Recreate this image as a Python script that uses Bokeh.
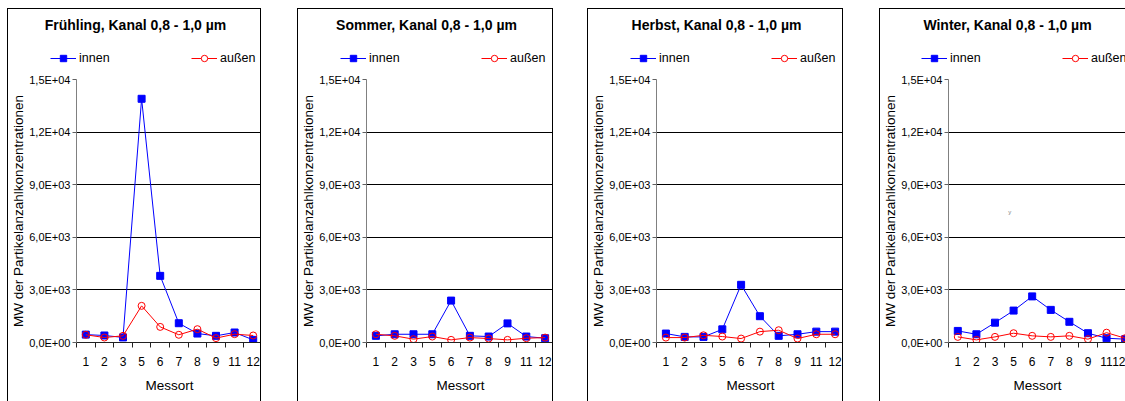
from bokeh.plotting import figure
from bokeh.models import FixedTicker, Legend, LegendItem, Spacer, Label
from bokeh.layouts import row, column
from bokeh.embed import file_html
from bokeh.resources import INLINE

# ---------------- data ----------------
messort = ["1", "2", "3", "5", "6", "7", "8", "9", "11", "12"]
seasons = ["Frühling", "Sommer", "Herbst", "Winter"]
title_suffix = ", Kanal 0,8 - 1,0 µm"
series_names = ["innen", "außen"]

innen_fruehling = [450, 400, 290, 13900, 3800, 1100, 510, 380, 570, 150]
aussen_fruehling = [440, 285, 380, 2090, 890, 440, 760, 250, 475, 400]
innen_sommer = [380, 470, 470, 470, 2390, 380, 340, 1090, 340, 245]
aussen_sommer = [470, 380, 190, 340, 150, 280, 225, 150, 245, 280]
innen_herbst = [510, 320, 320, 750, 3290, 1500, 380, 470, 620, 620]
aussen_herbst = [280, 280, 410, 340, 225, 620, 700, 225, 470, 470]
innen_winter = [660, 470, 1130, 1820, 2630, 1860, 1180, 530, 245, 190]
aussen_winter = [320, 150, 320, 530, 380, 320, 380, 190, 560, 245]

y_ticks = [0, 3000, 6000, 9000, 12000, 15000]
y_tick_labels = ["0,0E+00", "3,0E+03", "6,0E+03", "9,0E+03", "1,2E+04", "1,5E+04"]
y_axis_label = "MW der Partikelanzahlkonzentrationen"
x_axis_label = "Messort"

# ---------------- style / layout ----------------
FONT = "Liberation Sans"
HDR_H = 63          # header (title + legend)
MAIN_H = 330        # chart part
MB_TOP = 8
MB_BOTTOM = 59
CAT_W = 18.7
BLUE = "#0000FF"
RED = "#FF0000"

panels = [
    dict(season=seasons[0], innen=innen_fruehling, aussen=aussen_fruehling,
         width=254, mbl=68, title_x=127, right_border=True),
    dict(season=seasons[1], innen=innen_sommer, aussen=aussen_sommer,
         width=256, mbl=68, title_x=128, right_border=True),
    dict(season=seasons[2], innen=innen_herbst, aussen=aussen_herbst,
         width=256, mbl=68, title_x=128, right_border=True),
    dict(season=seasons[3], innen=innen_winter, aussen=aussen_winter,
         width=246, mbl=67, title_x=127, right_border=False),
]


def border_styles(top, right):
    s = {"border-left": "1px solid #000"}
    if top:
        s["border-top"] = "1px solid #000"
    if right:
        s["border-right"] = "1px solid #000"
    return s


def make_header(season, innen, aussen, width, mbl, title_x, right_border):
    """Title + legend strip; its ranges are in pixels of the strip (y negative)."""
    n = len(messort)
    xs = list(range(1, n + 1))
    h = figure(width=width, height=HDR_H, x_range=(0, width), y_range=(-HDR_H, 0),
               output_backend="svg", toolbar_location=None, title=None,
               x_axis_type=None, y_axis_type=None, frame_align=False,
               min_border=0, min_border_left=0, min_border_right=0,
               min_border_top=0, min_border_bottom=0,
               background_fill_color="white", border_fill_color="white",
               styles=border_styles(True, right_border))
    h.outline_line_color = None
    h.grid.visible = False
    h.add_layout(Label(x=title_x, y=-15, text=season + title_suffix,
                       text_font=FONT, text_font_size="14px", text_font_style="bold",
                       text_color="black", text_align="center", text_baseline="middle"))
    # legend entries for the two series (their data lies outside this strip's ranges)
    l1 = h.line(xs, innen, line_color=BLUE, line_width=1)
    s1 = h.scatter(xs, innen, marker="square", size=7, fill_color=BLUE, line_color=BLUE)
    l2 = h.line(xs, aussen, line_color=RED, line_width=1)
    s2 = h.scatter(xs, aussen, marker="circle", size=7, fill_color="white", line_color=RED)
    legend = Legend(
        items=[LegendItem(label=series_names[0], renderers=[l1, s1]),
               LegendItem(label=series_names[1], renderers=[l2, s2])],
        orientation="horizontal", location=(mbl - 26, 6),
        padding=0, margin=0, spacing=0,
        glyph_width=26, glyph_height=16, label_standoff=3,
        label_height=16, label_width=112,
        label_text_font=FONT, label_text_font_size="12.5px", label_text_color="black",
        background_fill_alpha=0, border_line_color=None,
    )
    h.add_layout(legend)
    return h


def make_panel(season, innen, aussen, width, mbl, title_x, right_border):
    n = len(messort)
    xs = list(range(1, n + 1))
    frame_w = width - mbl
    x_end = 0.5 + frame_w / CAT_W if not right_border else n + 0.5
    p = figure(width=width, height=MAIN_H, x_range=(0.5, x_end), y_range=(0, 15000),
               output_backend="svg", toolbar_location=None, title=None,
               frame_align=False,
               min_border_left=mbl, min_border_right=0,
               min_border_top=MB_TOP, min_border_bottom=MB_BOTTOM,
               background_fill_color="white", border_fill_color="white",
               styles=border_styles(False, right_border))
    p.outline_line_color = None

    # grid
    p.xgrid.visible = False
    p.ygrid.grid_line_color = "black"
    p.ygrid.grid_line_width = 1

    # x axis
    xa = p.xaxis[0]
    xa.ticker = FixedTicker(ticks=xs, minor_ticks=[i + 0.5 for i in range(n + 1)])
    xa.major_label_overrides = {i + 1: lbl for i, lbl in enumerate(messort)}
    xa.major_tick_line_color = None
    xa.major_tick_out = 0
    xa.major_tick_in = 0
    xa.minor_tick_line_color = "#222222"
    xa.minor_tick_out = 5
    xa.minor_tick_in = 0
    xa.axis_line_color = "#222222"
    xa.major_label_text_font = FONT
    xa.major_label_text_font_size = "12px"
    xa.major_label_text_color = "black"
    xa.major_label_standoff = 9
    xa.axis_label = x_axis_label
    xa.axis_label_text_font = FONT
    xa.axis_label_text_font_size = "13.5px"
    xa.axis_label_text_font_style = "normal"
    xa.axis_label_text_color = "black"
    xa.axis_label_standoff = 9

    # y axis
    ya = p.yaxis[0]
    ya.ticker = FixedTicker(ticks=y_ticks)
    ya.major_label_overrides = {t: l for t, l in zip(y_ticks, y_tick_labels)}
    ya.axis_line_color = "#808080"
    ya.major_tick_line_color = "#606060"
    ya.major_tick_out = 4
    ya.major_tick_in = 0
    ya.minor_tick_line_color = None
    ya.major_label_text_font = FONT
    ya.major_label_text_font_size = "11px"
    ya.major_label_text_color = "black"
    ya.major_label_standoff = 2
    ya.axis_label = y_axis_label
    ya.axis_label_text_font = FONT
    ya.axis_label_text_font_size = "13.5px"
    ya.axis_label_text_font_style = "normal"
    ya.axis_label_text_color = "black"
    ya.axis_label_standoff = 0

    # series
    p.line(xs, innen, line_color=BLUE, line_width=1)
    p.scatter(xs, innen, marker="square", size=7, fill_color=BLUE, line_color=BLUE)
    p.line(xs, aussen, line_color=RED, line_width=1)
    p.scatter(xs, aussen, marker="circle", size=7, fill_color=None, line_color=RED, line_width=1)
    return p


cols = []
figs = []
for cfg in panels:
    hdr = make_header(**cfg)
    main = make_panel(**cfg)
    figs.append(main)
    cols.append(column(hdr, main))

# small stray mark visible in the winter panel
figs[3].add_layout(Label(x=3.8, y=7470, text="y", text_font_size="6px",
                         text_color="#808080", text_font=FONT,
                         text_align="center", text_baseline="middle"))

layout = column(
    Spacer(width=1118, height=8),
    row(Spacer(width=7, height=HDR_H + MAIN_H), cols[0],
        Spacer(width=36, height=HDR_H + MAIN_H), cols[1],
        Spacer(width=34, height=HDR_H + MAIN_H), cols[2],
        Spacer(width=36, height=HDR_H + MAIN_H), cols[3]),
)

open("out.html", "w").write(file_html(layout, INLINE))
